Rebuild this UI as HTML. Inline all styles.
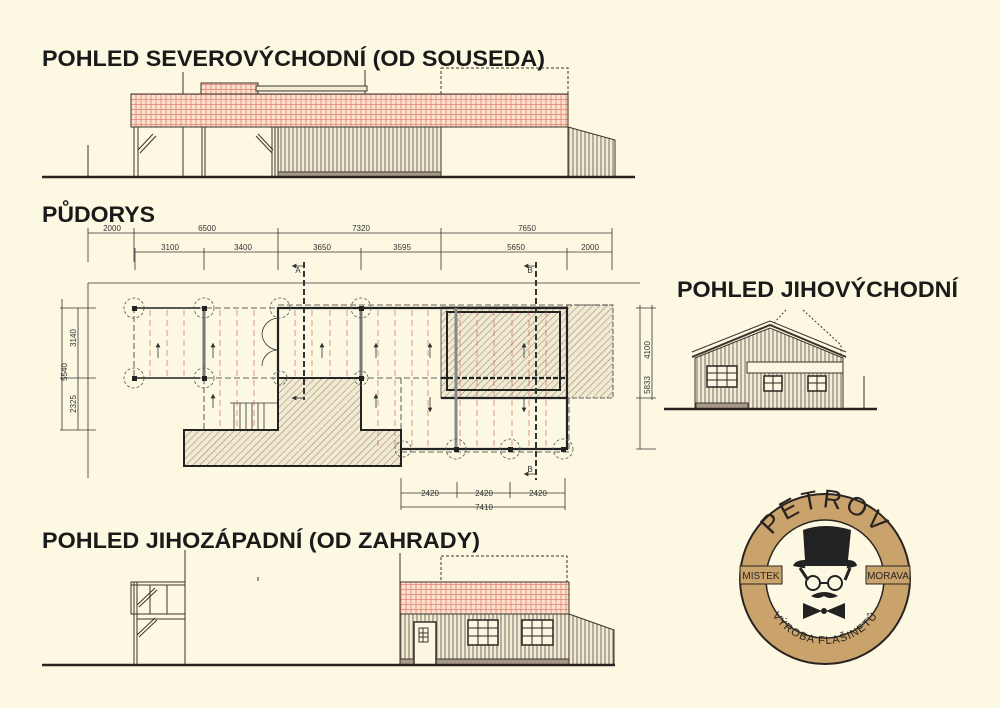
<!DOCTYPE html>
<html><head><meta charset="utf-8"><style>
html,body{margin:0;padding:0;background:#fdf8e2;}
svg{display:block}
text{font-family:"Liberation Sans",sans-serif;}
</style></head><body>
<svg width="1000" height="708" viewBox="0 0 1000 708" xmlns="http://www.w3.org/2000/svg">
<defs>
<pattern id="tile" width="5" height="5" patternUnits="userSpaceOnUse">
<rect width="5" height="5" fill="#fbe0cf"/>
<path d="M0 4.5H5M1 0V4.5" stroke="#e0806a" stroke-width="0.8"/>
</pattern>
<pattern id="side" width="4" height="10" patternUnits="userSpaceOnUse">
<rect width="4" height="10" fill="#f3ecd4"/>
<path d="M1 0V10" stroke="#6a6055" stroke-width="0.9"/>
</pattern>
<pattern id="hatch" width="5" height="5" patternUnits="userSpaceOnUse" patternTransform="rotate(45)">
<rect width="5" height="5" fill="#f1ead0"/>
<path d="M0 0V5" stroke="#5a554c" stroke-width="0.7"/>
</pattern>
<marker id="ar" markerWidth="6" markerHeight="6" refX="3" refY="3" orient="auto"><path d="M0 0L6 3L0 6z" fill="#333"/></marker>
</defs>

<!-- Titles -->
<g font-weight="bold" fill="#1a1a1a" font-size="22">
<text x="42" y="66" textLength="503" lengthAdjust="spacingAndGlyphs">POHLED SEVEROVÝCHODNÍ (OD SOUSEDA)</text>
<text x="42" y="222" textLength="113" lengthAdjust="spacingAndGlyphs">PŮDORYS</text>
<text x="677" y="297" textLength="281" lengthAdjust="spacingAndGlyphs">POHLED JIHOVÝCHODNÍ</text>
<text x="42" y="548" textLength="438" lengthAdjust="spacingAndGlyphs">POHLED JIHOZÁPADNÍ (OD ZAHRADY)</text>
</g>

<!-- ===== Top elevation ===== -->
<g stroke="#3a342c" fill="none" stroke-width="1">
<line x1="183" y1="72" x2="183" y2="94"/>
<line x1="365" y1="70" x2="365" y2="94"/>
<rect x="441" y="68" width="127" height="26" stroke-dasharray="3,2"/>
<rect x="201" y="83" width="57" height="11" fill="url(#tile)"/>
<rect x="256" y="86" width="111" height="5" fill="#f3ecd4"/>
<rect x="131" y="94" width="437" height="33" fill="url(#tile)"/>
<rect x="278" y="127" width="163" height="45" fill="url(#side)"/>
<rect x="278" y="172" width="163" height="5" fill="#a89a8a"/>
<line x1="134" y1="127" x2="134" y2="177"/><line x1="138" y1="127" x2="138" y2="177"/>
<line x1="183" y1="127" x2="183" y2="177"/>
<line x1="202" y1="127" x2="202" y2="177"/><line x1="205" y1="127" x2="205" y2="177"/>
<line x1="138" y1="150" x2="153" y2="134"/><line x1="140" y1="153" x2="156" y2="136"/>
<line x1="258" y1="134" x2="273" y2="150"/><line x1="256" y1="136" x2="272" y2="153"/>
<line x1="272" y1="127" x2="272" y2="177"/><line x1="275" y1="127" x2="275" y2="177"/>
<polygon points="568,127 615,140 615,177 568,177" fill="url(#side)"/>
<line x1="88" y1="145" x2="88" y2="177"/>
<line x1="42" y1="177" x2="635" y2="177" stroke-width="2.5" stroke="#2a2420"/>
</g>

<!-- ===== Plan ===== -->
<g stroke="#333" fill="none" stroke-width="0.8" font-size="8" >
<!-- dims top -->
<line x1="88" y1="233" x2="612" y2="233"/>
<line x1="135" y1="252" x2="612" y2="252"/>
<g>
<line x1="88" y1="228" x2="88" y2="262"/><line x1="134" y1="228" x2="134" y2="262"/><line x1="278" y1="228" x2="278" y2="270"/><line x1="441" y1="228" x2="441" y2="270"/><line x1="612" y1="228" x2="612" y2="270"/>
<line x1="135" y1="248" x2="135" y2="270"/><line x1="204" y1="248" x2="204" y2="270"/><line x1="361" y1="248" x2="361" y2="270"/><line x1="567" y1="248" x2="567" y2="270"/>
</g>
<g fill="#333" stroke="none" text-anchor="middle">
<text x="112" y="231">2000</text><text x="207" y="231">6500</text><text x="361" y="231">7320</text><text x="527" y="231">7650</text>
<text x="170" y="250">3100</text><text x="243" y="250">3400</text><text x="322" y="250">3650</text><text x="402" y="250">3595</text><text x="516" y="250">5650</text><text x="590" y="250">2000</text>
<text x="430" y="496">2420</text><text x="484" y="496">2420</text><text x="538" y="496">2420</text><text x="484" y="510">7410</text>
<text x="298" y="273">A</text><text x="298" y="392">A</text><text x="530" y="273">B</text><text x="530" y="472">B</text>
<text transform="translate(67,372) rotate(-90)">5540</text>
<text transform="translate(76,338) rotate(-90)">3140</text>
<text transform="translate(76,404) rotate(-90)">2325</text>
<text transform="translate(650,350) rotate(-90)">4100</text>
<text transform="translate(650,385) rotate(-90)">5833</text>
</g>
<!-- frame -->
<line x1="88" y1="283" x2="640" y2="283"/>
<line x1="88" y1="283" x2="88" y2="478"/>
<line x1="62" y1="299" x2="62" y2="430"/><line x1="78" y1="308" x2="78" y2="430"/>
<line x1="60" y1="308" x2="96" y2="308"/><line x1="60" y1="378" x2="96" y2="378"/><line x1="60" y1="430" x2="96" y2="430"/>
<line x1="640" y1="305" x2="640" y2="449"/><line x1="652" y1="305" x2="652" y2="400"/>
<line x1="636" y1="308" x2="656" y2="308"/><line x1="636" y1="398" x2="656" y2="398"/><line x1="636" y1="449" x2="656" y2="449"/>
<line x1="401" y1="478" x2="401" y2="510"/><line x1="457" y1="482" x2="457" y2="498"/><line x1="510" y1="482" x2="510" y2="498"/><line x1="565" y1="478" x2="565" y2="510"/>
<line x1="401" y1="493" x2="565" y2="493"/><line x1="401" y1="507" x2="565" y2="507"/>
<!-- hatched terrace -->
<polygon points="278,378 361,378 361,430 401,430 401,466 184,466 184,430 278,430" fill="url(#hatch)" stroke="#222" stroke-width="2"/>
<!-- hatched room -->
<rect x="441" y="307" width="126" height="91" fill="url(#hatch)"/>
<rect x="447" y="312" width="113" height="78" stroke="#222" stroke-width="2"/>
<rect x="567" y="305" width="46" height="93" fill="url(#hatch)" stroke="#333" stroke-dasharray="5,2"/>
<!-- red rafters -->
<g stroke="#d05050" stroke-width="0.6" stroke-dasharray="6,4">
<path d="M150 310V376M167 310V376M184 310V376M220 310V430M237 310V430M254 310V430M295 310V376M312 310V376M330 310V376M347 310V376M378 310V449M395 310V449M412 310V449M428 310V449M460 310V449M477 310V449M494 310V449M512 310V449M529 310V449M546 310V449"/>
</g>
<!-- dashed outlines -->
<g stroke-dasharray="6,3" stroke="#333">
<rect x="134" y="308" width="144" height="70"/>
<line x1="278" y1="305" x2="613" y2="305"/>
<line x1="204" y1="378" x2="204" y2="430"/>
<line x1="278" y1="378" x2="441" y2="378"/>
<line x1="401" y1="378" x2="401" y2="430"/>
<line x1="401" y1="452" x2="569" y2="452"/>
<line x1="569" y1="398" x2="569" y2="452"/>
<line x1="304" y1="262" x2="304" y2="400" stroke-width="2"/>
<line x1="536" y1="262" x2="536" y2="480" stroke-width="2"/>
</g>
<!-- walls -->
<g stroke="#222" stroke-width="2.2">
<polyline points="278,378 278,308 567,308 567,398"/>
<line x1="441" y1="378" x2="567" y2="378" stroke-dasharray="5,2"/>
<line x1="441" y1="398" x2="567" y2="398"/>
<polyline points="401,449 567,449 567,398"/>
<line x1="204" y1="308" x2="204" y2="378" stroke-width="3" stroke="#777"/>
<line x1="361" y1="308" x2="361" y2="378" stroke-width="3" stroke="#777"/>
<line x1="456" y1="308" x2="456" y2="449" stroke-width="3" stroke="#888"/>
<line x1="134" y1="308" x2="200" y2="308" stroke-width="1.5"/>
<line x1="134" y1="378" x2="200" y2="378" stroke-width="1.5"/>
</g>
<!-- stairs -->
<g stroke="#333"><line x1="230" y1="403" x2="278" y2="403"/><path d="M234 403V430M240 403V430M246 403V430M252 403V430M258 403V430M264 403V430"/></g>
<path d="M278 318A17 17 0 0 0 262 334M278 350A17 17 0 0 1 262 334M278 350A16 16 0 0 0 262 366" stroke="#333"/>
<!-- circles -->
<g stroke="#555" stroke-dasharray="3,2">
<circle cx="134" cy="308" r="10"/><circle cx="204" cy="308" r="10"/><circle cx="280" cy="308" r="10"/><circle cx="361" cy="308" r="10"/>
<circle cx="134" cy="378" r="10"/><circle cx="204" cy="378" r="10"/><circle cx="280" cy="378" r="7"/><circle cx="361" cy="378" r="7"/>
<circle cx="403" cy="449" r="8"/><circle cx="456" cy="449" r="10"/><circle cx="510" cy="449" r="10"/><circle cx="563" cy="449" r="10"/>
</g>
<g fill="#222" stroke="none">
<rect x="132" y="306" width="5" height="5"/><rect x="202" y="306" width="5" height="5"/><rect x="132" y="376" width="5" height="5"/><rect x="202" y="376" width="5" height="5"/>
<rect x="359" y="306" width="5" height="5"/><rect x="359" y="376" width="5" height="5"/><rect x="454" y="447" width="5" height="5"/><rect x="508" y="447" width="5" height="5"/><rect x="561" y="447" width="5" height="5"/>
</g>
<!-- arrows -->
<g stroke="#333" stroke-width="0.8">
<line x1="158" y1="358" x2="158" y2="345" marker-end="url(#ar)"/><line x1="213" y1="358" x2="213" y2="345" marker-end="url(#ar)"/>
<line x1="322" y1="358" x2="322" y2="345" marker-end="url(#ar)"/><line x1="376" y1="358" x2="376" y2="345" marker-end="url(#ar)"/>
<line x1="430" y1="358" x2="430" y2="345" marker-end="url(#ar)"/><line x1="524" y1="358" x2="524" y2="345" marker-end="url(#ar)"/>
<line x1="213" y1="408" x2="213" y2="396" marker-end="url(#ar)"/><line x1="376" y1="408" x2="376" y2="396" marker-end="url(#ar)"/>
<line x1="430" y1="397" x2="430" y2="410" marker-end="url(#ar)"/><line x1="524" y1="397" x2="524" y2="410" marker-end="url(#ar)"/>
<line x1="304" y1="266" x2="294" y2="266" marker-end="url(#ar)"/><line x1="536" y1="266" x2="526" y2="266" marker-end="url(#ar)"/>
<line x1="304" y1="398" x2="294" y2="398" marker-end="url(#ar)"/><line x1="536" y1="474" x2="526" y2="474" marker-end="url(#ar)"/>
</g>
</g>

<!-- ===== Right elevation ===== -->
<g stroke="#3a342c" fill="none" stroke-width="1">
<polyline points="771,326 786,310" stroke-dasharray="2,2"/>
<polyline points="803,310 841,345 841,357" stroke-dasharray="2,2"/>
<polygon points="695,358 770,328 843,358 843,409 695,409" fill="url(#side)"/>
<polyline points="692,357 770,325 846,357" stroke-width="2"/>
<polyline points="692,352 770,321 846,352"/>
<rect x="747" y="362" width="96" height="11" fill="#fbf6e2"/>
<rect x="696" y="403" width="52" height="6" fill="#a89a8a"/>
<g fill="#fbf6e2" stroke="#2a2420" stroke-width="1.5">
<rect x="707" y="366" width="30" height="21"/><rect x="764" y="376" width="18" height="15"/><rect x="808" y="376" width="18" height="15"/>
</g>
<path d="M717 366V387M727 366V387M707 373H737M707 380H737M773 376V391M764 383H782M817 376V391M808 383H826" stroke="#2a2420"/>
<line x1="864" y1="376" x2="864" y2="409"/>
<line x1="664" y1="409" x2="877" y2="409" stroke-width="2.5" stroke="#2a2420"/>
</g>

<!-- ===== Bottom elevation ===== -->
<g stroke="#3a342c" fill="none" stroke-width="1">
<line x1="185" y1="550" x2="185" y2="665"/>
<line x1="400" y1="553" x2="400" y2="614"/>
<rect x="131" y="582" width="54" height="32"/>
<line x1="131" y1="585" x2="185" y2="585"/>
<line x1="134" y1="582" x2="134" y2="665"/><line x1="137" y1="582" x2="137" y2="665"/>
<line x1="150" y1="585" x2="150" y2="614"/><line x1="167" y1="585" x2="167" y2="614"/>
<line x1="137" y1="605" x2="155" y2="588"/><line x1="139" y1="607" x2="157" y2="590"/>
<line x1="137" y1="635" x2="155" y2="618"/><line x1="139" y1="637" x2="157" y2="620"/>
<line x1="137" y1="619" x2="185" y2="619"/>
<line x1="258" y1="577" x2="258" y2="581"/>
<rect x="441" y="556" width="126" height="26" stroke-dasharray="3,2"/>
<rect x="400" y="582" width="169" height="32" fill="url(#tile)"/>
<rect x="400" y="614" width="169" height="51" fill="url(#side)"/>
<rect x="400" y="659" width="169" height="6" fill="#a89a8a"/>
<polygon points="569,614 614,630 614,665 569,665" fill="url(#side)"/>
<rect x="414" y="622" width="22" height="43" fill="#fbf6e2" stroke-width="1.5"/>
<rect x="419" y="628" width="9" height="14" fill="#fbf6e2"/>
<path d="M419 633H428M419 637H428M423 628V642"/>
<g fill="#fbf6e2" stroke="#2a2420" stroke-width="1.5"><rect x="468" y="620" width="30" height="25"/><rect x="522" y="620" width="31" height="25"/></g>
<path d="M478 620V645M488 620V645M468 628H498M468 636H498M532 620V645M542 620V645M522 628H553M522 636H553" stroke="#2a2420"/>
<line x1="42" y1="665" x2="615" y2="665" stroke-width="2.5" stroke="#2a2420"/>
</g>

<!-- ===== Logo ===== -->
<g>
<circle cx="825" cy="579" r="85" fill="#c9a36b" stroke="#2a2420" stroke-width="2"/>
<circle cx="825" cy="579" r="59" fill="#fdf8e2" stroke="#2a2420" stroke-width="1.5"/>
<path id="topArc" d="M763 556A64 64 0 0 1 887 556" fill="none"/>
<text font-size="26" fill="#2a2420" letter-spacing="3"><textPath href="#topArc" startOffset="50%" text-anchor="middle">PETROV</textPath></text>
<path id="botArc" d="M766 603A63 63 0 0 0 884 603" fill="none"/>
<text font-size="11" fill="#2a2420" letter-spacing="1"><textPath href="#botArc" startOffset="50%" text-anchor="middle">VÝROBA FLAŠINETŮ</textPath></text>
<rect x="740" y="566" width="42" height="18" fill="#c9a36b" stroke="#2a2420"/>
<rect x="866" y="566" width="44" height="18" fill="#c9a36b" stroke="#2a2420"/>
<text x="761" y="579" font-size="10" text-anchor="middle" fill="#2a2420">MISTEK</text>
<text x="888" y="579" font-size="10" text-anchor="middle" fill="#2a2420">MORAVA</text>
<path d="M803 530Q825 522 851 530L848 560Q856 560 857 566Q830 574 793 566Q795 560 805 560Z" fill="#222"/>
<path d="M805 566Q808 592 826 600Q843 592 847 566Z" fill="#fdf8e2"/>
<path d="M800 568L808 580M850 568L845 580" stroke="#222" stroke-width="3"/>
<g fill="none" stroke="#222" stroke-width="2"><circle cx="813" cy="583" r="7"/><circle cx="835" cy="583" r="7"/><line x1="820" y1="583" x2="828" y2="583"/></g>
<path d="M811 596Q824 588 838 596Q830 600 824 596Q818 600 811 596Z" fill="#222"/>
<path d="M803 603L822 611L803 619ZM845 603L826 611L845 619Z" fill="#222"/>
<circle cx="824" cy="611" r="3" fill="#222"/>
</g>
</svg>
</body></html>
